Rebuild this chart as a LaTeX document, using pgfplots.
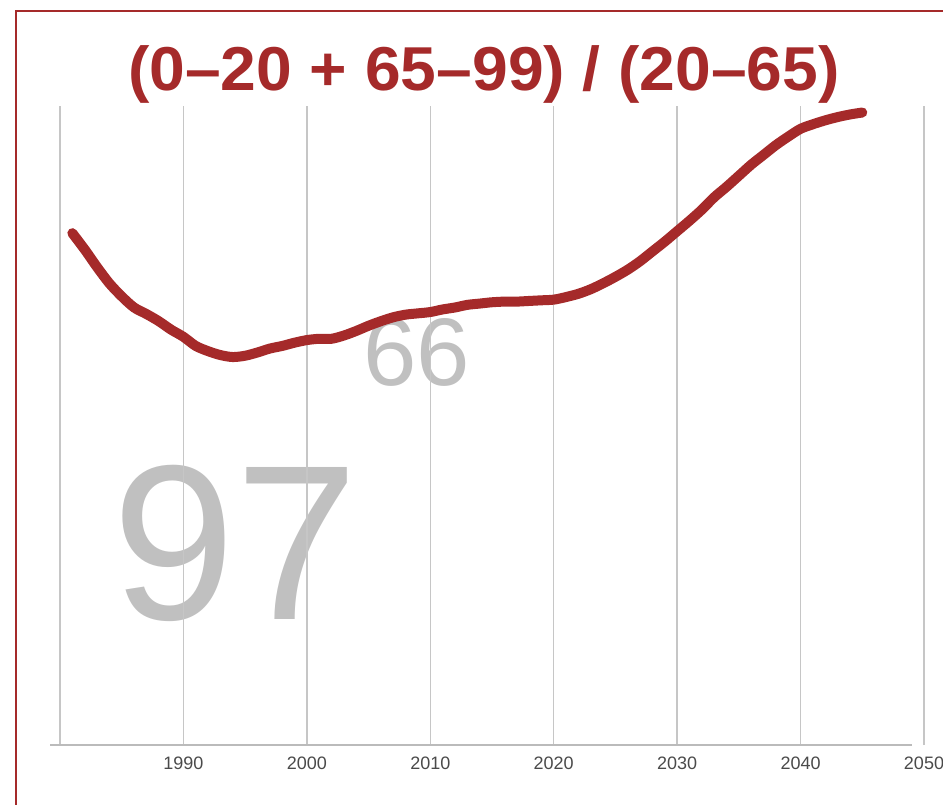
\documentclass[border=0pt]{standalone}
\usepackage{graphicx}
\usepackage{pgfplots}
\pgfplotsset{compat=1.18}
\usepackage{fontspec}
\setmainfont{Liberation Sans}
\definecolor{tred}{HTML}{A52A2A}
\definecolor{bigtxt}{HTML}{C0C0C0}
\definecolor{gridc}{HTML}{C6C6C6}
\definecolor{axisc}{HTML}{BBBBBB}
\definecolor{tickc}{HTML}{4A4A4A}
\begin{document}
\begin{tikzpicture}
\useasboundingbox (0pt,0pt) rectangle (943pt,-805pt);
\clip (0pt,0pt) rectangle (943pt,-805pt);
% frame
\draw[tred, line width=2.2pt] (15.7pt,-815pt) -- (15.7pt,-11pt) -- (960pt,-11pt);
% big gray annotations
\node[inner sep=0pt, text=bigtxt, font=\fontsize{221}{221}\selectfont] at (235.5pt,-543pt) {97};
\node[inner sep=0pt, text=bigtxt, font=\fontsize{96}{96}\selectfont] at (416.5pt,-352.5pt) {66};
% title
\node[inner sep=0pt, text=tred, font=\fontsize{62}{62}\selectfont\bfseries] at (484pt,-74.5pt) {\scalebox{1.035}[1]{(0–20 + 65–99) / (20–65)}};
\begin{axis}[
  at={(60pt,-745pt)}, anchor=south west,
  scale only axis, width=864pt, height=639pt,
  xmin=1980, xmax=2050, ymin=0, ymax=98,
  clip=false,
  axis line style={draw=none},
  ytick=\empty,
  xtick={1980,1990,2000,2010,2020,2030,2040,2050},
  xticklabels={,1990,2000,2010,2020,2030,2040,2050},
  major tick length=0pt,
  xmajorgrids=true,
  grid style={gridc, line width=1.4pt},
  xticklabel style={anchor=center, yshift=-18pt, text=tickc, font=\fontsize{18}{18}\selectfont},
]
\draw[axisc, line width=2.4pt] (axis cs:1979.2,0) -- (axis cs:2049.05,0);
\addplot[tred, line width=10pt, line cap=round, line join=round, smooth, tension=0.5] coordinates {
(1981,78.5) (1982,76.0) (1983,73.3) (1984,70.8) (1985,68.8) (1986,67.1) (1987,66.1) (1988,65.0) (1989,63.7) (1990,62.6)
(1991,61.2) (1992,60.4) (1993,59.8) (1994,59.5) (1995,59.7) (1996,60.2) (1997,60.8) (1998,61.2) (1999,61.7) (2000,62.1)
(2001,62.3) (2002,62.3) (2003,62.8) (2004,63.5) (2005,64.3) (2006,65.0) (2007,65.6) (2008,66.0) (2009,66.2) (2010,66.4)
(2011,66.8) (2012,67.1) (2013,67.5) (2014,67.7) (2015,67.9) (2016,68.0) (2017,68.0) (2018,68.1) (2019,68.2) (2020,68.3)
(2021,68.7) (2022,69.2) (2023,69.9) (2024,70.8) (2025,71.8) (2026,72.9) (2027,74.2) (2028,75.7) (2029,77.2) (2030,78.8)
(2031,80.4) (2032,82.1) (2033,84.0) (2034,85.6) (2035,87.3) (2036,89.0) (2037,90.5) (2038,92.0) (2039,93.3) (2040,94.5)
(2041,95.2) (2042,95.8) (2043,96.3) (2044,96.7) (2045,97.0)
};
\end{axis}
\end{tikzpicture}
\end{document}
